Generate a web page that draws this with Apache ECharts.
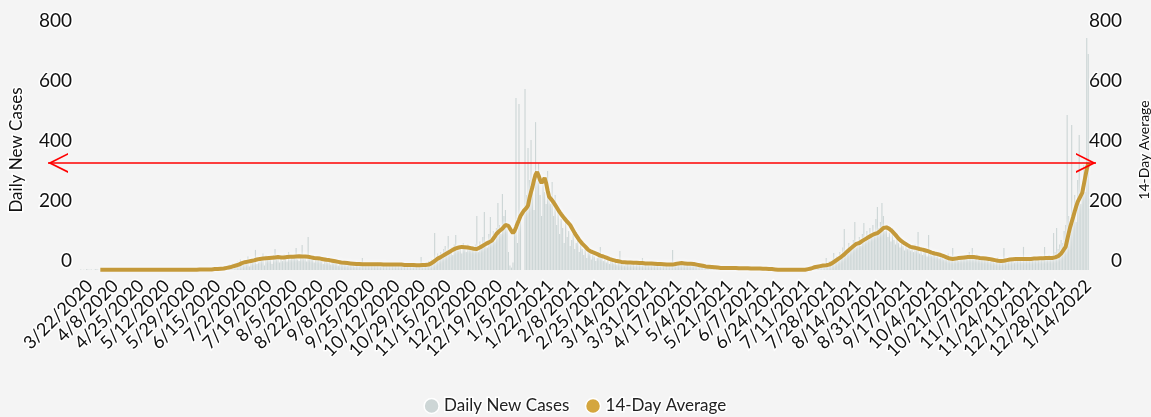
<!DOCTYPE html>
<html>
<head>
<meta charset="utf-8">
<script src="https://cdn.jsdelivr.net/npm/echarts@6/dist/echarts.min.js"></script>
<style>
  html, body { margin: 0; padding: 0; background: #f4f4f4; }
  #chart-panel { width: 1151px; height: 417px; }
</style>
</head>
<body>
<div id="chart-panel"></div>
<script>
// daily new cases, one value per day from 3/16/2020
var dailyCases = [
  2,0,1,0,3,1,
  1,2,0,1,3,2,1,0,2,1,3,1,0,2,1,1,0,
  1,0,2,1,1,0,0,2,1,1,3,0,1,0,1,2,1,
  0,1,1,0,2,1,0,1,3,0,1,2,0,1,0,1,2,
  1,0,2,1,0,1,1,3,0,2,1,0,1,2,1,0,3,
  1,2,0,3,2,1,4,2,0,3,5,2,1,4,3,6,2,
  4,8,3,10,12,6,9,15,18,10,22,14,20,28,17,35,24,
  30,18,22,45,12,28,38,35,67,20,25,42,30,55,15,48,40,
  42,35,20,50,70,38,45,25,48,30,52,40,28,60,35,44,38,
  40,73,35,30,50,83,38,45,28,110,42,36,40,25,44,32,35,
  30,38,20,35,42,25,30,18,33,28,22,30,15,26,20,24,18,
  22,15,28,20,18,25,12,19,22,16,20,40,14,24,18,15,21,
  18,22,14,20,25,16,12,21,19,23,15,18,20,14,22,17,19,
  16,20,14,19,22,15,13,18,20,16,21,14,17,19,15,12,43,
  20,15,25,18,30,22,35,28,123,40,55,45,60,50,70,80,65,
  113,60,75,50,85,117,70,65,80,55,90,72,60,85,68,75,80,
  70,85,180,60,95,80,110,193,90,75,120,177,100,130,95,140,223,
  150,120,253,180,200,140,60,15,8,25,140,573,90,553,160,0,0,
  603,250,407,300,433,280,200,493,320,357,250,180,300,260,220,330,240,
  220,293,180,250,150,200,120,170,140,90,160,110,130,80,100,120,70,
  90,110,60,85,70,50,75,40,65,55,35,50,45,30,40,55,77,
  40,30,45,25,35,20,38,28,22,30,18,27,63,20,24,15,28,
  22,28,18,25,30,15,20,24,19,26,40,23,21,28,16,20,24,
  20,18,25,15,22,19,23,17,21,24,16,20,18,67,19,17,21,
  22,25,18,20,24,16,21,19,15,22,17,14,18,12,16,13,15,
  14,10,12,8,11,9,7,10,6,8,9,5,7,8,6,5,7,
  6,8,5,7,4,6,9,5,3,7,6,4,5,8,3,5,4,
  5,3,6,4,2,5,3,1,4,2,3,1,2,0,3,1,2,
  1,0,2,0,1,3,0,1,2,0,1,0,2,1,3,0,2,
  3,5,2,8,6,10,4,12,15,9,18,14,20,40,16,30,28,
  35,57,30,45,40,60,50,75,137,55,70,90,65,85,100,160,75,
  90,110,80,120,157,95,130,100,140,115,150,120,170,210,140,160,223,
  180,130,150,110,125,95,140,100,85,120,90,75,100,80,65,90,70,
  80,65,75,60,85,70,127,55,65,50,70,60,45,117,55,48,60,
  50,45,60,38,52,42,35,48,40,55,30,45,73,42,35,40,30,
  40,45,35,50,42,38,60,44,73,48,40,52,33,45,38,42,35,
  38,32,40,28,35,30,25,36,42,30,33,27,73,31,35,29,34,
  30,38,25,40,35,33,42,28,77,36,32,38,30,40,34,37,39,
  35,40,32,45,38,77,42,36,50,45,40,123,60,140,70,85,100,
  90,130,150,517,180,120,483,200,250,160,300,450,220,280,350,260,773,
  720
];

// 14-day average, same days (starts once 14 days exist)
var avg14 = [
  null,null,null,null,null,null,
  null,null,null,null,null,null,null,1,1,1,2,1,1,1,1,1,1,
  1,1,1,1,1,1,1,1,1,1,1,1,1,1,1,1,1,
  1,1,1,1,1,1,1,1,1,1,1,1,1,1,1,1,1,
  1,1,1,1,1,1,1,1,1,1,1,1,1,1,1,1,1,
  1,1,1,1,1,2,2,2,2,2,2,2,2,2,2,3,3,
  3,4,4,5,5,6,7,8,9,10,12,13,15,16,18,21,23,
  25,26,27,28,29,30,31,32,34,35,36,37,37,38,39,39,40,
  40,41,41,41,42,42,43,43,42,42,42,43,43,44,44,44,44,
  45,45,45,46,46,45,45,45,44,44,43,42,41,40,40,39,38,
  38,37,36,35,34,34,33,32,31,30,29,28,27,26,25,25,24,
  23,23,22,22,21,21,20,20,20,20,20,19,19,19,19,19,19,
  19,19,19,19,19,19,19,19,18,18,18,18,18,18,18,18,18,
  18,18,18,18,18,17,17,17,17,17,17,17,17,16,16,16,17,
  17,17,17,18,18,20,23,26,30,34,38,41,43,46,49,52,55,
  58,61,64,67,70,72,74,75,76,77,77,76,76,75,74,73,72,
  71,70,70,72,75,78,81,84,87,90,92,93,98,105,112,120,126,
  130,133,138,144,150,153,147,138,130,123,130,142,155,167,180,188,196,
  200,207,215,240,260,278,300,318,327,315,300,290,298,307,290,265,244,
  238,232,225,217,209,201,193,186,180,173,167,161,156,150,141,132,123,
  115,108,100,94,88,83,78,72,67,64,61,59,57,55,53,50,48,
  47,45,43,41,39,37,36,34,33,31,30,29,28,27,27,26,26,
  25,25,25,24,24,24,24,23,23,23,23,23,22,22,22,22,22,
  21,21,21,20,20,20,19,19,18,18,18,18,17,18,19,20,21,
  22,23,23,22,22,22,21,21,21,20,20,19,18,17,16,15,14,
  13,12,12,11,11,10,10,9,9,8,8,7,7,7,7,7,7,
  7,7,7,7,7,6,6,6,6,6,6,6,6,5,5,5,5,
  5,5,5,5,4,4,4,4,3,3,3,3,2,2,2,1,1,
  1,1,1,1,1,1,1,1,1,1,1,1,1,1,1,1,1,
  2,3,4,5,7,9,10,11,12,13,14,15,15,16,17,18,20,
  23,27,30,33,37,40,44,48,52,57,62,67,71,75,79,83,87,
  88,90,93,97,100,103,106,109,112,115,118,120,122,123,127,131,135,
  140,141,142,140,137,133,128,123,117,111,105,100,96,92,89,86,83,
  80,77,76,75,74,73,71,70,69,68,66,65,63,62,60,58,56,
  55,54,53,52,50,48,46,44,42,40,38,37,37,38,38,39,40,
  40,41,41,42,42,43,43,43,43,43,42,42,41,40,40,39,39,
  38,38,37,36,35,34,33,32,31,31,30,30,31,32,33,34,35,
  35,36,36,37,37,37,37,37,37,37,37,37,37,37,37,38,38,
  38,38,39,39,39,40,40,40,40,40,40,41,42,44,46,50,55,
  62,70,77,100,122,143,160,177,195,212,227,237,247,257,283,310,335,
  357
];

// dates shown under the x axis
var tickLabels = [
  '3/22/2020','4/8/2020','4/25/2020','5/12/2020','5/29/2020','6/15/2020','7/2/2020',
  '7/19/2020','8/5/2020','8/22/2020','9/8/2020','9/25/2020','10/12/2020','10/29/2020',
  '11/15/2020','12/2/2020','12/19/2020','1/5/2021','1/22/2021','2/8/2021','2/25/2021',
  '3/14/2021','3/31/2021','4/17/2021','5/4/2021','5/21/2021','6/7/2021','6/24/2021',
  '7/11/2021','7/28/2021','8/14/2021','8/31/2021','9/17/2021','10/4/2021','10/21/2021',
  '11/7/2021','11/24/2021','12/11/2021','12/28/2021','1/14/2022'
];

var yTicks = [0, 200, 400, 600, 800];

// category per day
var days = [];
var d0 = new Date(2020, 2, 16);
for (var i = 0; i < dailyCases.length; i++) {
    var d = new Date(d0.getFullYear(), d0.getMonth(), d0.getDate() + i);
    days.push((d.getMonth() + 1) + '/' + d.getDate() + '/' + d.getFullYear());
}

var lastAvg = avg14[avg14.length - 1];
var font = 'Lato';
var halo = { textBorderColor: '#fff', textBorderWidth: 3 };

// open chevron, tip at top
var chevron = 'path://M10,0 L20,20 L18.2,20 L10,3.8 L1.8,20 L0,20 Z';

var opt = {
    backgroundColor: '#f4f4f4',
    animation: false,
    textStyle: { fontFamily: font },
    grid: { left: 80, right: 62, top: 30, bottom: 147, outerBoundsMode: 'none' },
    legend: {
        top: 391,
        left: 'center',
        icon: 'circle',
        itemWidth: 15,
        itemHeight: 15,
        itemGap: 14,
        itemStyle: { borderColor: '#fff', borderWidth: 1.5 },
        textStyle: Object.assign({ fontSize: 17, color: '#222', fontFamily: font }, halo),
        data: ['Daily New Cases', '14-Day Average']
    },
    xAxis: {
        type: 'category',
        data: days,
        axisLine: { show: false },
        axisTick: { show: false },
        axisLabel: Object.assign({
            // every category gets a slot, only the listed dates get text
            interval: 0,
            formatter: function (val) { return tickLabels.indexOf(val) >= 0 ? val : ''; },
            rotate: 45,
            margin: 13,
            fontSize: 18,
            color: '#111',
            fontFamily: font
        }, halo)
    },
    yAxis: [
        {
            type: 'value', min: yTicks[0], max: yTicks[yTicks.length - 1], interval: 200,
            name: 'Daily New Cases', nameLocation: 'middle', nameGap: 54,
            nameTextStyle: Object.assign({ fontSize: 17, color: '#111', fontFamily: font }, halo),
            splitLine: { show: false },
            axisLabel: Object.assign({ fontSize: 19, color: '#111', margin: 8, verticalAlign: 'bottom', fontFamily: font }, halo)
        },
        {
            type: 'value', min: yTicks[0], max: yTicks[yTicks.length - 1], interval: 200,
            position: 'right',
            name: '14-Day Average', nameLocation: 'middle', nameGap: 48,
            nameTextStyle: Object.assign({ fontSize: 14, color: '#111', fontFamily: font }, halo),
            splitLine: { show: false },
            axisLabel: Object.assign({ fontSize: 19, color: '#111', margin: 33, align: 'right', verticalAlign: 'bottom', fontFamily: font }, halo)
        }
    ],
    series: [
        {
            name: 'Daily New Cases',
            type: 'bar',
            data: dailyCases,
            barCategoryGap: '25%',
            itemStyle: { color: '#cdd6d6' }
        },
        {
            name: '14-Day Average',
            type: 'line',
            yAxisIndex: 1,
            data: avg14,
            showSymbol: false,
            symbol: 'none',
            itemStyle: { color: '#d4a63e' },
            lineStyle: {
                color: '#c4993a', width: 4,
                shadowColor: 'rgba(255,255,255,0.95)', shadowBlur: 4
            },
            z: 3,
            markLine: {
                silent: true,
                symbol: [chevron, chevron],
                symbolSize: 20,
                symbolOffset: [[0, 10], [0, 10]],
                label: { show: false },
                lineStyle: { color: '#ff0000', width: 1.5, type: 'solid' },
                z: 10,
                data: [[{ x: 48, yAxis: lastAvg }, { x: 1096, yAxis: lastAvg }]]
            }
        }
    ]
};

var chart = echarts.init(document.getElementById('chart-panel'));
chart.setOption(opt);
</script>
</body>
</html>
